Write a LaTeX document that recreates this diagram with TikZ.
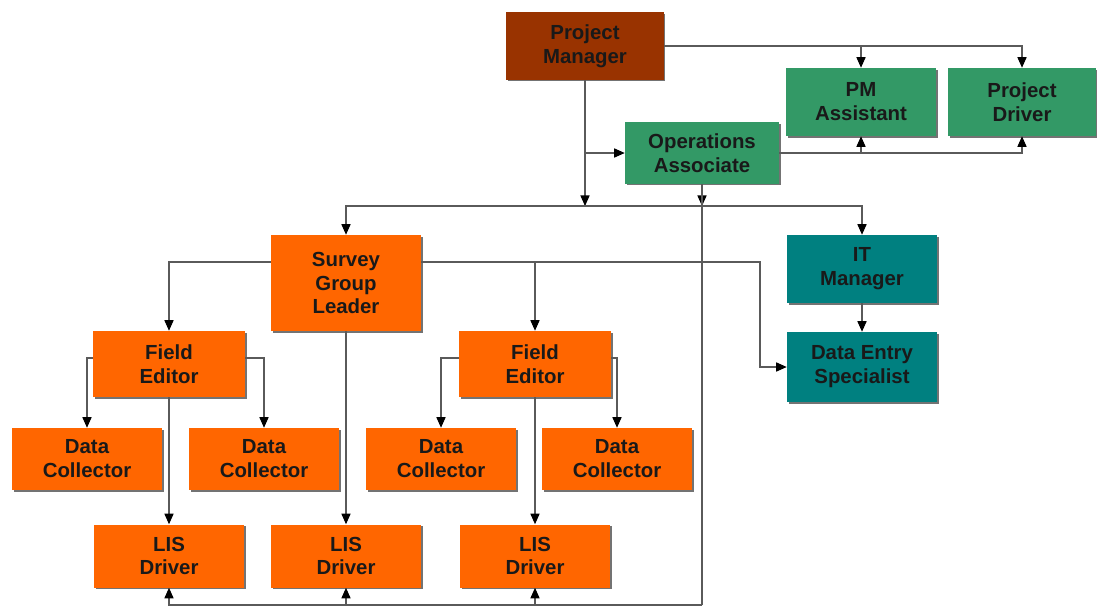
\documentclass[tikz,border=0pt]{standalone}
\usepackage{fontspec}
\setmainfont{Liberation Sans}
\usetikzlibrary{arrows.meta,shadows}

\definecolor{pmbrown}{RGB}{153,51,0}
\definecolor{orgorange}{RGB}{255,102,0}
\definecolor{orggreen}{RGB}{51,153,102}
\definecolor{orgteal}{RGB}{0,128,128}
\definecolor{linegray}{RGB}{90,90,90}

\begin{document}
\begin{tikzpicture}[
x=0.025cm, y=-0.025cm,
box/.style={rectangle, align=center, inner sep=2pt, text=black!90,
  font=\bfseries\fontsize{14.5}{17}\selectfont,
  minimum width=3.75cm, minimum height=1.6cm,
  drop shadow={shadow xshift=1.3pt, shadow yshift=-1.3pt, fill=black, opacity=0.55}},
orange/.style={box, fill=orgorange},
green/.style={box, fill=orggreen},
teal/.style={box, fill=orgteal},
line/.style={draw=linegray, line width=0.8pt},
arrow/.style={line, -{Triangle[length=7.5pt,width=6.5pt,color=black]}} ]

\useasboundingbox (0,0) rectangle (1097,607);

% top level
\node[box, fill=pmbrown, minimum width=3.925cm, minimum height=1.675cm](pm) at (585,46) {Project\\Manager};
\node[green, minimum height=1.7cm](pma) at (861,102) {PM\\Assistant};
\node[green, minimum height=1.7cm, minimum width=3.7cm](pdr) at (1022,102) {Project\\Driver};
\node[green, minimum width=3.85cm, minimum height=1.525cm](ops) at (702,153) {Operations\\Associate};

% second level
\node[orange, minimum height=2.4cm](sgl) at (346,283) {Survey\\Group\\Leader};
\node[teal, minimum height=1.7cm](itm) at (862,269) {IT\\Manager};
\node[teal, minimum height=1.75cm](des) at (862,367) {Data Entry\\Specialist};

\node[orange, minimum width=3.8cm, minimum height=1.65cm](fe1) at (169,364) {Field\\Editor};
\node[orange, minimum width=3.8cm, minimum height=1.65cm](fe2) at (535,364) {Field\\Editor};

\node[orange, minimum height=1.55cm](dc1) at (87,459) {Data\\Collector};
\node[orange, minimum height=1.55cm](dc2) at (264,459) {Data\\Collector};
\node[orange, minimum height=1.55cm](dc3) at (441,459) {Data\\Collector};
\node[orange, minimum height=1.55cm](dc4) at (617,459) {Data\\Collector};

\node[orange, minimum height=1.575cm](lis1) at (169,556) {LIS\\Driver};
\node[orange, minimum height=1.575cm](lis2) at (346,556) {LIS\\Driver};
\node[orange, minimum height=1.575cm](lis3) at (535,556) {LIS\\Driver};

\coordinate (hub) at (pm.south |- 0,206);
\coordinate (base) at (ops.south |- 0,605);

% project manager
\draw[arrow] (pm.east) -| (pma.north);
\draw[arrow] (pm.east) -| (pdr.north);
\draw[arrow] (pm.south) -- (hub);
\draw[arrow] (pm.south |- ops.west) -- (ops.west);
\draw[arrow] (hub) -| (sgl.north);
\draw[arrow] (hub) -| (itm.north);

% operations associate
\draw[arrow] (ops.east) -| (pma.south);
\draw[arrow] (ops.east) -| (pdr.south);
\draw[arrow] (ops.south) -- (ops.south |- hub);
\draw[line] (ops.south) -- (base);
\draw[arrow] (base) -| (lis1.south);
\draw[arrow] (base) -| (lis2.south);
\draw[arrow] (base) -| (lis3.south);

% survey group leader
\draw[arrow] (sgl.west |- 0,262) -| (fe1.north);
\draw[arrow] (sgl.east |- 0,262) -| (fe2.north);
\draw[arrow] (sgl.east |- 0,262) -- (760,262) |- (des.west);
\draw[arrow] (sgl.south) -- (lis2.north);
\draw[arrow] (itm) -- (des);

% field editors
\draw[arrow] (fe1.west |- 0,358) -| (dc1.north);
\draw[arrow] (fe1.east |- 0,358) -| (dc2.north);
\draw[arrow] (fe1.south) -- (lis1.north);
\draw[arrow] (fe2.west |- 0,358) -| (dc3.north);
\draw[arrow] (fe2.east |- 0,358) -| (dc4.north);
\draw[arrow] (fe2.south) -- (lis3.north);
\end{tikzpicture}
\end{document}
